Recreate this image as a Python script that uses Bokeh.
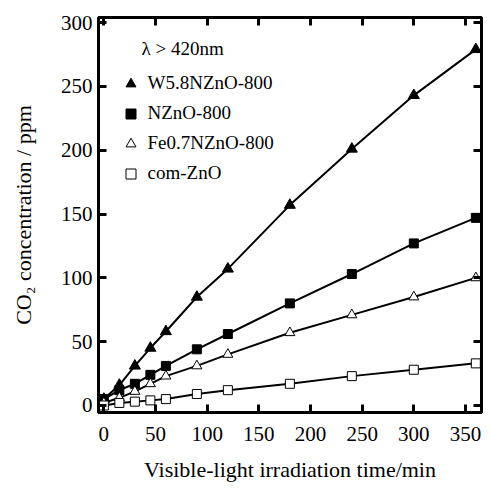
from bokeh.plotting import figure
from bokeh.models import LinearAxis, Legend, LegendItem, Label, Range1d, FixedTicker
from bokeh.embed import file_html
from bokeh.resources import INLINE

# ---- data ----
time_min = [0, 15, 30, 45, 60, 90, 120, 180, 240, 300, 360]
w58_nzno = [5, 16, 31, 45, 58, 85, 107, 157, 201, 243, 279]
nzno = [5, 12, 17, 24, 31, 44, 56, 80, 103, 127, 147]
fe07_nzno = [2, 6, 11, 17, 23, 31, 40, 57, 71, 85, 100]
com_zno = [0, 2, 3, 4, 5, 9, 12, 17, 23, 28, 33]
series_names = ["W5.8NZnO-800", "NZnO-800", "Fe0.7NZnO-800", "com-ZnO"]
x_ticks = [0, 50, 100, 150, 200, 250, 300, 350]
y_ticks = [0, 50, 100, 150, 200, 250, 300]

FONT = "Liberation Serif"

p = figure(width=491, height=490, output_backend="svg", toolbar_location=None,
           x_range=Range1d(-5.2, 365.5), y_range=Range1d(-5.5, 304),
           min_border_left=98, min_border_right=10, min_border_top=17, min_border_bottom=78)
p.xgrid.visible = False
p.ygrid.visible = False
p.outline_line_color = "black"
p.outline_line_width = 3
p.background_fill_color = "white"
p.border_fill_color = "white"

p.add_layout(LinearAxis(), "above")
p.add_layout(LinearAxis(), "right")

for ax in p.xaxis:
    ax.ticker = FixedTicker(ticks=x_ticks)
for ax in p.yaxis:
    ax.ticker = FixedTicker(ticks=y_ticks)

for ax in p.axis:
    ax.axis_line_color = "black"
    ax.axis_line_width = 3
    ax.major_tick_line_color = "black"
    ax.major_tick_line_width = 3
    ax.major_tick_in = 8
    ax.major_tick_out = 0
    ax.minor_tick_line_color = None
    ax.major_label_text_font = FONT
    ax.major_label_text_font_size = "21px"
    ax.major_label_text_color = "black"
    ax.axis_label_text_font = FONT
    ax.axis_label_text_font_size = "22px"
    ax.axis_label_text_font_style = "normal"
    ax.axis_label_text_color = "black"

for ax in (p.above[0], p.right[0]):
    ax.major_label_text_font_size = "1px"
    ax.major_label_text_color = None
    ax.major_label_standoff = 0

p.below[0].axis_label = "Visible-light irradiation time/min"
p.below[0].major_label_standoff = 14
p.below[0].axis_label_standoff = 13
p.left[0].axis_label = "CO\u2082 concentration / ppm"
p.left[0].major_label_standoff = 6
p.left[0].axis_label_standoff = 22

data = [w58_nzno, nzno, fe07_nzno, com_zno]
markers = ["triangle", "square", "triangle", "square"]
fills = ["black", "black", "white", "white"]
sizes = [11, 9, 10, 9]

items = []
for name, ys in zip(series_names, data):
    p.line(time_min, ys, line_color="black", line_width=2)
for name, ys, mk, fc, sz in zip(series_names, data, markers, fills, sizes):
    r = p.scatter(time_min, ys, marker=mk, size=sz, fill_color=fc,
                  line_color="black", line_width=1)
    items.append(LegendItem(label=name, renderers=[r]))

legend = Legend(items=items, location=(19.5, 226.5), padding=0, margin=0,
                glyph_width=25, glyph_height=25, label_height=25, spacing=5,
                label_standoff=5, label_text_font=FONT, label_text_font_size="19px",
                label_text_color="black", border_line_color=None,
                background_fill_alpha=0)
p.add_layout(legend)

p.add_layout(Label(x=43, y=364, x_units="screen", y_units="screen", text="\u03bb > 420nm",
                   text_font=FONT, text_font_size="19px", text_baseline="middle",
                   text_color="black"))

open("out.html", "w").write(file_html(p, INLINE))
